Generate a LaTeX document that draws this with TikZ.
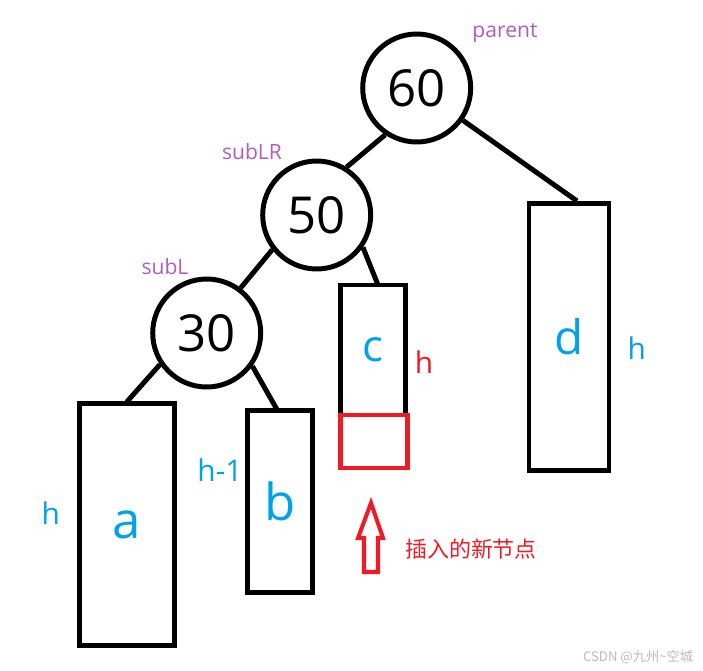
\documentclass[tikz,border=0pt]{standalone}
\usepackage{fontspec}
\setmainfont{Open Sans}
\newfontfamily\cjkf{Noto Sans CJK SC}
\definecolor{lblue}{RGB}{0,162,232}
\definecolor{purp}{RGB}{178,92,186}
\definecolor{pred}{RGB}{237,28,36}
\definecolor{wgray}{RGB}{185,185,185}
\begin{document}
\begin{tikzpicture}[x=0.02cm,y=-0.02cm,
  nd/.style={circle, draw, line width=2.83pt, minimum size=2.16cm, inner sep=0pt, font=\fontsize{29}{29}\selectfont},
  sub/.style={draw, line width=2.83pt, inner sep=0pt, text=lblue, font=\fontsize{29}{29}\selectfont},
  edge/.style={line width=2.83pt},
  tag/.style={text=purp, font=\fontsize{12}{12}\selectfont},
  hl/.style={text=lblue, font=\fontsize{17}{17}\selectfont},
  newbox/.style={draw=pred, line width=2.6pt, inner sep=0pt}]
\useasboundingbox (0,0) rectangle (703,670);
% circles
\node[nd] (n60) at (416.7,88) {60};
\node[nd] (n50) at (316.7,215) {50};
\node[nd] (n30) at (206.7,333) {30};
% subtrees
\node[sub, minimum width=95*0.02cm, minimum height=242*0.02cm] (a) at (126.7,524.5) {a};
\node[sub, minimum width=65*0.02cm, minimum height=182*0.02cm] (b) at (280,501.5) {b};
\node[sub, minimum width=65*0.02cm, minimum height=130*0.02cm, font=\fontsize{25}{25}\selectfont] (c) at (373,350) {c};
\node[sub, minimum width=80*0.02cm, minimum height=267*0.02cm, font=\fontsize{27}{27}\selectfont] (d) at (569,337) {d};
\node[newbox, minimum width=67*0.02cm, minimum height=53*0.02cm] (nb) at (374,441.5) {};
% connector ends
\coordinate (dtop) at (577,201);
\coordinate (ctop) at (378,285);
\coordinate (atop) at (126.7,402);
\coordinate (btop) at (276.7,409);
% edges
\draw[edge] (n60.-124) -- (n50.58);
\draw[edge] (n60.-35) -- (dtop);
\draw[edge] (n50.-142) -- (n30.53);
\draw[edge] (n50.-35) -- (ctop);
\draw[edge] (n30.-146) -- (atop);
\draw[edge] (n30.-36) -- (btop);
% labels
\node[tag] (tp) at (505,33) {parent};
\node[tag] (tlr) at (252,152) {subLR};
\node[tag] (tl) at (165,267) {subL};
\node[hl] (ha) at (50.7,513) {h};
\node[hl] (hb) at (220,470) {h-1};
\node[hl, text=pred] (hc) at (424,362) {h};
\node[hl] (hd) at (636.7,348) {h};
% hollow arrow
\draw[pred, line width=2.3pt, line join=miter] (364,572) -- (364,538) -- (358,538) -- (371,503) -- (383,538) -- (378,538) -- (378,572) -- cycle;
\node[text=pred, font=\cjkf\fontsize{12.5}{12.5}\selectfont] (ins) at (471,549) {插入的新节点};
\node[text=wgray, font=\cjkf\fontsize{7.5}{7.5}\selectfont] (wm) at (638,657) {CSDN @九州\textasciitilde 空城};
\end{tikzpicture}
\end{document}
